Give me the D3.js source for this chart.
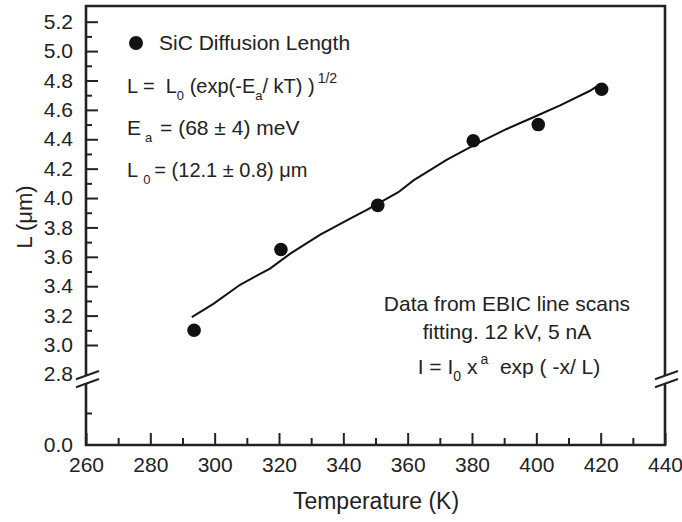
<!DOCTYPE html>
<html>
<head>
<meta charset="utf-8">
<script src="https://cdn.jsdelivr.net/npm/d3@7"></script>
<style>
  body { margin: 0; background: #fff; }
  svg { display: block; font-family: "Liberation Sans", Arial, sans-serif; }
</style>
</head>
<body>
<svg id="chart" width="682" height="522"></svg>
<script>
// measured points
const tempK = [293.6, 320.6, 350.7, 380.4, 400.6, 420.3];
const diffLen = [3.10, 3.65, 3.95, 4.39, 4.50, 4.74];

// fitted curve
const fitT = [292.9, 299.6, 307.9, 317.2, 323.4, 332.7, 342.1, 347.3, 357.1, 361.8, 372.1, 381.5, 390.8, 399.1, 407.4, 416.7, 418.8];
const fitL = [3.19, 3.28, 3.41, 3.52, 3.62, 3.75, 3.86, 3.92, 4.04, 4.12, 4.26, 4.37, 4.47, 4.55, 4.63, 4.73, 4.76];

const xTicks = [260, 280, 300, 320, 340, 360, 380, 400, 420, 440];
const yTicksUpper = [2.8, 3.0, 3.2, 3.4, 3.6, 3.8, 4.0, 4.2, 4.4, 4.6, 4.8, 5.0, 5.2];
const yTicksLower = [0.0];

const svg = d3.select('#chart');
const pLeft = 86, pRight = 665, pTop = 6, pBottom = 445;
const breakHi = 375.7, breakLo = 383.7;

const x = d3.scaleLinear().domain([260, 440]).range([pLeft, pRight]);
const y = d3.scaleLinear().domain([3.0, 5.2]).range([345, 21.7]);
const yLow = d3.scaleLinear().domain([0, 0.2]).range([pBottom, 413]);

const tickFont = 21;
const ink = '#222';

// x axis
svg.append('g').attr('transform', `translate(0,${pBottom})`)
  .call(d3.axisBottom(x).tickValues(xTicks).tickFormat(d3.format('d'))
    .tickSizeInner(-12).tickSizeOuter(0).tickPadding(12));
svg.append('g').attr('transform', `translate(0,${pBottom})`)
  .call(d3.axisBottom(x).tickValues(d3.range(270, 440, 20)).tickFormat('')
    .tickSizeInner(-7).tickSizeOuter(0));

// y axis, upper part
svg.append('g').attr('transform', `translate(${pLeft},0)`)
  .call(d3.axisLeft(y).tickValues(yTicksUpper.slice(1)).tickFormat(d3.format('.1f'))
    .tickSizeInner(-12).tickSizeOuter(0).tickPadding(13));
svg.append('g').attr('transform', `translate(${pLeft},0)`)
  .call(d3.axisLeft(y).tickValues(d3.range(3.1, 5.2, 0.2)).tickFormat('')
    .tickSizeInner(-6).tickSizeOuter(0));
svg.append('text').attr('x', pLeft - 13).attr('y', y(2.8)).attr('dy', '0.32em')
  .attr('text-anchor', 'end').attr('font-size', tickFont).attr('fill', ink)
  .text(d3.format('.1f')(yTicksUpper[0]));

// y axis, lower part
svg.append('g').attr('transform', `translate(${pLeft},0)`)
  .call(d3.axisLeft(yLow).tickValues(yTicksLower).tickFormat(d3.format('.1f'))
    .tickSizeInner(0).tickSizeOuter(0).tickPadding(13));
svg.append('g').attr('transform', `translate(${pLeft},0)`)
  .call(d3.axisLeft(yLow).tickValues([0.2]).tickFormat('')
    .tickSizeInner(-6).tickSizeOuter(0));

svg.selectAll('.domain').remove();
svg.selectAll('.tick line').attr('stroke', ink).attr('stroke-width', 2);
svg.selectAll('.tick text').attr('font-size', tickFont).attr('fill', ink)
  .attr('font-family', '"Liberation Sans", Arial, sans-serif');

// frame with the axis break on both sides
const frame = svg.append('g').attr('stroke', ink).attr('stroke-width', 2.6).attr('fill', 'none');
frame.append('path').attr('d', `M${pLeft},${breakHi}V${pTop}H${pRight}V${breakHi}`);
frame.append('path').attr('d', `M${pLeft},${breakLo}V${pBottom}H${pRight}V${breakLo}`);
[pLeft, pRight].forEach(cx => {
  frame.append('line').attr('x1', cx - 10).attr('y1', breakHi + 3.6).attr('x2', cx + 13).attr('y2', breakHi - 4.7)
    .attr('stroke-width', 2);
  frame.append('line').attr('x1', cx - 10).attr('y1', breakLo + 3.6).attr('x2', cx + 13).attr('y2', breakLo - 4.7)
    .attr('stroke-width', 2);
});

// fit line
const line = d3.line().x(d => x(d[0])).y(d => y(d[1]));
svg.append('path').datum(d3.zip(fitT, fitL))
  .attr('d', line).attr('fill', 'none').attr('stroke', '#111').attr('stroke-width', 2);

// data points
svg.selectAll('circle.pt').data(d3.zip(tempK, diffLen)).join('circle')
  .attr('class', 'pt')
  .attr('cx', d => x(d[0])).attr('cy', d => y(d[1])).attr('r', 6.8)
  .attr('fill', '#111');

// legend
svg.append('circle').attr('cx', 136).attr('cy', 43).attr('r', 7).attr('fill', '#111');
svg.append('text').attr('x', 159).attr('y', 50).attr('font-size', 21).attr('fill', ink)
  .text('SiC Diffusion Length');

// formula block
const fs = 20, sub = 13;
const eq1 = svg.append('text').attr('x', 127).attr('y', 93).attr('font-size', fs).attr('fill', ink)
  .style('white-space', 'pre');
eq1.append('tspan').text('L =  L');
eq1.append('tspan').attr('font-size', sub).attr('dy', 7).text('0');
eq1.append('tspan').attr('dy', -7).text(' (exp(-E');
eq1.append('tspan').attr('font-size', sub).attr('dy', 7).text('a');
eq1.append('tspan').attr('dy', -7).text('/ kT) )');
eq1.append('tspan').attr('font-size', sub + 1).attr('dy', -10).attr('dx', 3).text('1/2');

const eq2 = svg.append('text').attr('x', 127).attr('y', 135).attr('font-size', 21).attr('fill', ink)
  .style('white-space', 'pre');
eq2.append('tspan').text('E');
eq2.append('tspan').attr('font-size', sub).attr('dy', 7).attr('dx', 4).text('a');
eq2.append('tspan').attr('dy', -7).attr('dx', 2).text(' = (68 \u00b1 4) meV');

const eq3 = svg.append('text').attr('x', 127).attr('y', 177).attr('font-size', fs).attr('fill', ink)
  .style('white-space', 'pre');
eq3.append('tspan').text('L');
eq3.append('tspan').attr('font-size', sub).attr('dy', 7).attr('dx', 5).text('0');
eq3.append('tspan').attr('dy', -7).attr('dx', 4).text('= (12.1 \u00b1 0.8) \u03bcm');

// note on the right
const noteX = 507;
svg.append('text').attr('x', noteX).attr('y', 311).attr('text-anchor', 'middle')
  .attr('font-size', 21).attr('fill', ink).text('Data from EBIC line scans');
svg.append('text').attr('x', noteX).attr('y', 339).attr('text-anchor', 'middle')
  .attr('font-size', 21).attr('fill', ink).text('fitting. 12 kV, 5 nA');
const eq4 = svg.append('text').attr('x', noteX + 2).attr('y', 374).attr('text-anchor', 'middle')
  .attr('font-size', 21).attr('fill', ink).style('white-space', 'pre');
eq4.append('tspan').text('I = I');
eq4.append('tspan').attr('font-size', 14).attr('dy', 7).text('0');
eq4.append('tspan').attr('dy', -7).text(' x');
eq4.append('tspan').attr('font-size', 14).attr('dy', -10).attr('dx', 3).text('a');
eq4.append('tspan').attr('dy', 10).text('  exp ( -x/ L)');

// axis titles
svg.append('text').attr('x', 376).attr('y', 509).attr('text-anchor', 'middle')
  .attr('font-size', 23).attr('fill', ink).text('Temperature (K)');
svg.append('text').attr('transform', 'translate(32,217) rotate(-90)').attr('text-anchor', 'middle')
  .attr('font-size', 22).attr('fill', ink).text('L (\u03bcm)');
</script>
</body>
</html>
